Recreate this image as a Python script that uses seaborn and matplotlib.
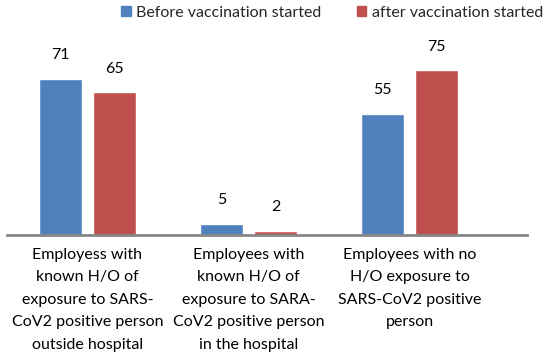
import pandas as pd
import matplotlib.pyplot as plt
import seaborn as sns
from matplotlib.patches import Patch

categories = [
    "Employess with\nknown H/O of\nexposure to SARS-\nCoV2 positive person\noutside hospital",
    "Employees with\nknown H/O of\nexposure to SARA-\nCoV2 positive person\nin the hospital",
    "Employees with no\nH/O exposure to\nSARS-CoV2 positive\nperson",
]
series = ["Before vaccination started", "after vaccination started"]
before = [71, 5, 55]
after = [65, 2, 75]
colors = ["#4f81bd", "#c0504d"]

sns.set_theme(style="white")
plt.rcParams["font.family"] = ["Lato", "DejaVu Sans"]

df = pd.DataFrame({
    "category": categories * 2,
    "series": [series[0]] * 3 + [series[1]] * 3,
    "value": before + after,
})

fig = plt.figure(figsize=(5.51, 3.59), dpi=100)
ax = fig.add_axes([7 / 551, 124 / 359, 520 / 551, 205 / 359])

sns.barplot(data=df, x="category", y="value", hue="series", palette=colors,
            width=0.67, gap=0.2, saturation=1, ax=ax, legend=False)

for cont in ax.containers:
    ax.bar_label(cont, padding=12, fontsize=11.5, color="black")

ax.set_xlim(-0.5, 2.73)
ax.set_ylim(0, 93.3)
ax.set_yticks([])
ax.set_xlabel("")
ax.set_ylabel("")
for s in ["top", "right", "left"]:
    ax.spines[s].set_visible(False)
ax.spines["bottom"].set_color("#868686")
ax.spines["bottom"].set_linewidth(2)
ax.tick_params(axis="x", length=0, pad=9, labelsize=11.5, colors="black")
for lab in ax.get_xticklabels():
    lab.set_linespacing(1.78)
    lab.set_va("top")

handles = [Patch(color=c, label=s) for c, s in zip(colors, series)]
fig.legend(handles=handles, loc="center right", bbox_to_anchor=(1.0, 1 - 13 / 359),
           ncol=2, frameon=False, fontsize=11.5, handlelength=0.6, handleheight=0.6,
           handletextpad=0.35, columnspacing=2.2, borderaxespad=0.1)

fig.savefig("out.png", dpi=100)
